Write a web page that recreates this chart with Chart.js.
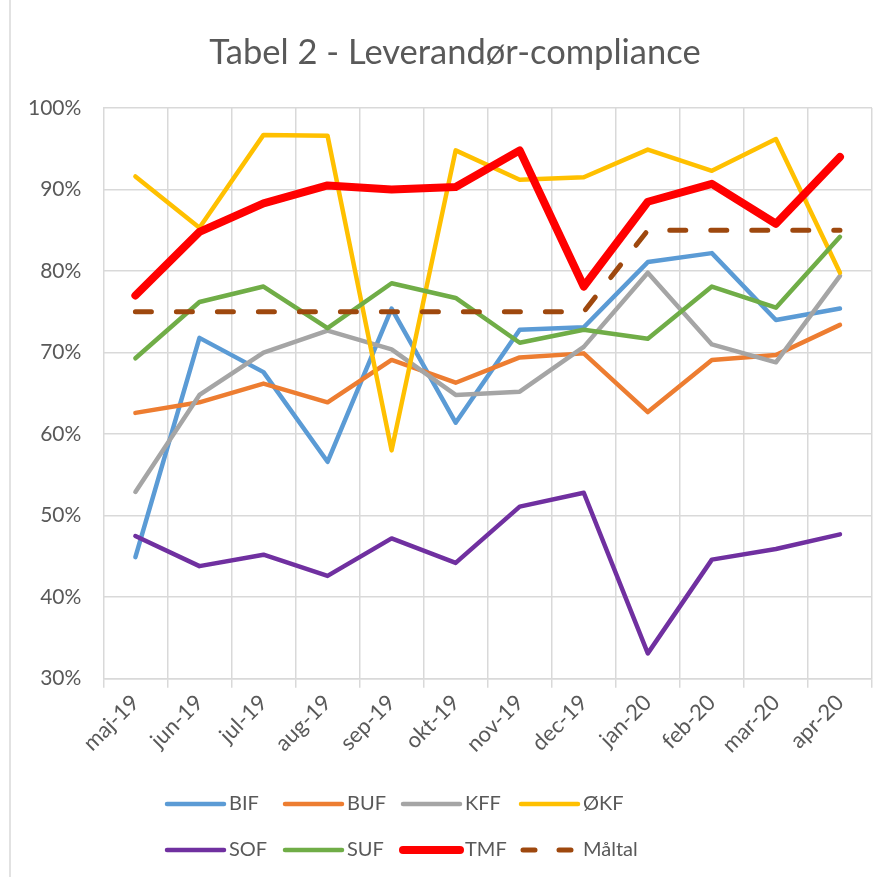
<!DOCTYPE html>
<html>
<head>
<meta charset="utf-8">
<script src="https://cdn.jsdelivr.net/npm/chart.js@4.4.1/dist/chart.umd.min.js"></script>
<style>
  body { margin: 0; background: #fff; }
  canvas { display: block; }
</style>
</head>
<body>
<canvas id="complianceChart" width="892" height="877"></canvas>
<script>
//  Months shown on the x axis
const months = ['maj-19', 'jun-19', 'jul-19', 'aug-19', 'sep-19', 'okt-19',
                'nov-19', 'dec-19', 'jan-20', 'feb-20', 'mar-20', 'apr-20'];

//  Compliance per unit (percent)
const bif = [44.9, 71.8, 67.6, 56.6, 75.4, 61.4, 72.8, 73.1, 81.1, 82.2, 74.0, 75.4];
const buf = [62.6, 63.9, 66.2, 63.9, 69.1, 66.3, 69.4, 69.9, 62.7, 69.1, 69.7, 73.4];
const kff = [52.9, 64.8, 70.0, 72.7, 70.4, 64.8, 65.2, 70.7, 79.8, 71.0, 68.8, 79.4];
const okf = [91.6, 85.3, 96.7, 96.6, 58.0, 94.8, 91.2, 91.5, 94.9, 92.3, 96.2, 79.8];
const sof = [47.5, 43.8, 45.2, 42.6, 47.2, 44.2, 51.1, 52.8, 33.1, 44.6, 45.9, 47.7];
const suf = [69.3, 76.2, 78.1, 73.0, 78.5, 76.7, 71.2, 72.8, 71.7, 78.1, 75.5, 84.2];
const tmf = [77.0, 84.8, 88.3, 90.5, 90.0, 90.3, 94.8, 78.1, 88.5, 90.7, 85.8, 94.0];
const maaltal = [75, 75, 75, 75, 75, 75, 75, 75, 85, 85, 85, 85];

//  Y axis range and step (percent)
const yMin = 30;
const yMax = 100;
const yStep = 10;

const chartTitle = 'Tabel 2 - Leverandør-compliance';
const textColor = '#595959';
const gridColor = '#d9d9d9';
const fontName = 'Lato';

//******************************************************************************
//  Build one line dataset, Excel style (no points, straight segments)
//******************************************************************************
function makeLine(label, values, color, width, index, dash) {
  return {
    label: label,
    data: values,
    borderColor: color,
    backgroundColor: color,
    borderWidth: width,
    borderDash: dash || [],
    borderCapStyle: 'round',
    borderJoinStyle: 'round',
    pointRadius: 0,
    tension: 0,
    fill: false,
    order: 10 - index   // later series on top, like Excel
  };
}

const datasets = [
  makeLine('BIF', bif, '#5B9BD5', 4.5, 0),
  makeLine('BUF', buf, '#ED7D31', 4.5, 1),
  makeLine('KFF', kff, '#A5A5A5', 4.5, 2),
  makeLine('ØKF', okf, '#FFC000', 4.5, 3),
  makeLine('SOF', sof, '#7030A0', 4.5, 4),
  makeLine('SUF', suf, '#70AD47', 4.5, 5),
  makeLine('TMF', tmf, '#FF0000', 8, 6),
  makeLine('Måltal', maaltal, '#9E480E', 5, 7, [16, 25])
];

//******************************************************************************
//  Title, frame line and a 4 column legend grid below the x axis
//******************************************************************************
const excelDecor = {
  id: 'excelDecor',
  afterDraw(chart) {
    const ctx = chart.ctx;
    const left = 167;
    const colWidth = 118;
    const rows = [804, 850];
    const sample = 57;

    ctx.save();
    // chart area frame on the left edge
    ctx.strokeStyle = gridColor;
    ctx.lineWidth = 1.5;
    ctx.beginPath();
    ctx.moveTo(10, 0);
    ctx.lineTo(10, chart.height);
    ctx.stroke();

    // title, centred on the chart frame like Excel does
    ctx.font = '34.5px ' + fontName;
    ctx.textAlign = 'center';
    ctx.textBaseline = 'middle';
    ctx.fillStyle = textColor;
    ctx.fillText(chartTitle, 455, 53);

    ctx.font = '20px ' + fontName;
    ctx.textAlign = 'left';

    chart.data.datasets.forEach((ds, i) => {
      const x = left + (i % 4) * colWidth;
      const y = rows[Math.floor(i / 4)];
      ctx.strokeStyle = ds.borderColor;
      ctx.lineWidth = ds.borderWidth;
      ctx.lineCap = 'round';
      ctx.setLineDash(ds.borderDash.length ? [12, 24] : []);
      ctx.beginPath();
      if (ds.borderDash.length) {
        ctx.moveTo(x + 2, y);
      } else {
        ctx.moveTo(x, y);
      }
      ctx.lineTo(x + sample, y);
      ctx.stroke();
      ctx.setLineDash([]);
      ctx.fillText(ds.label, x + sample + 5, y);
    });
    ctx.restore();
  }
};

const ctx = document.getElementById('complianceChart').getContext('2d');

let lineChart = new Chart(ctx, {
  type: 'line',
  data: {
    labels: months,
    datasets: datasets
  },
  options: {
    responsive: false,
    animation: false,
    layout: {
      padding: { top: 108, left: 6, right: 20, bottom: 117 }
    },
    plugins: {
      legend: { display: false },
      tooltip: { enabled: false },
      title: { display: false }
    },
    scales: {
      x: {
        offset: true,
        grid: {
          offset: true,
          color: gridColor,
          lineWidth: 1.5,
          tickLength: 9
        },
        border: { color: gridColor, width: 1.5 },
        ticks: {
          color: textColor,
          font: { family: fontName, size: 22 },
          minRotation: 45,
          maxRotation: 45,
          autoSkip: false,
          padding: 2
        }
      },
      y: {
        min: yMin,
        max: yMax,
        grid: {
          color: gridColor,
          lineWidth: 1.5,
          drawTicks: false
        },
        border: { display: false },
        ticks: {
          stepSize: yStep,
          color: textColor,
          font: { family: fontName, size: 21 },
          padding: 22,
          callback: (value) => value + '%'
        }
      }
    }
  },
  plugins: [excelDecor]
});
</script>
</body>
</html>
